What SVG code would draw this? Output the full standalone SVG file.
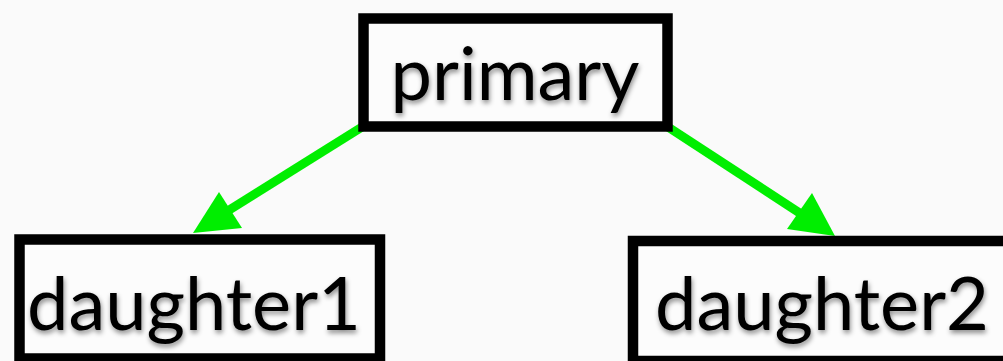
<svg xmlns="http://www.w3.org/2000/svg" width="1003" height="361" viewBox="0 0 1003 361">
<defs>
<filter id="sh" x="-10%" y="-20%" width="120%" height="150%">
<feDropShadow dx="1" dy="3" stdDeviation="2.5" flood-color="#000" flood-opacity="0.45"/>
</filter>
<style>
.box{fill:#fcfcfc;stroke:#000;stroke-width:10.5}
.lbl{font-family:Lato,"Open Sans","Liberation Sans",sans-serif;font-size:74px;fill:#000;text-anchor:middle;filter:url(#sh)}
.edge{stroke:#00ee00;stroke-width:9;fill:none}
.head{fill:#00ee00}
</style>
</defs>
<rect width="1003" height="361" fill="#fafafa"/>
<g id="connectors">
<line class="edge" x1="362" y1="127" x2="210" y2="222"/>
<polygon class="head" points="193,233 219,192 242,228"/>
<line class="edge" x1="668" y1="127" x2="818" y2="225"/>
<polygon class="head" points="835,236 812,193 787,229"/>
</g>
<g id="primary">
<rect class="box" x="363.5" y="18.5" width="304" height="108"/>
<text class="lbl" x="515" y="100">primary</text>
</g>
<g id="daughter1">
<rect class="box" x="19.5" y="239.5" width="360.5" height="119"/>
<text class="lbl" x="194" y="330">daughter1</text>
</g>
<g id="daughter2">
<rect class="box" x="633" y="241" width="380" height="120"/>
<text class="lbl" x="822" y="330">daughter2</text>
</g>
</svg>
